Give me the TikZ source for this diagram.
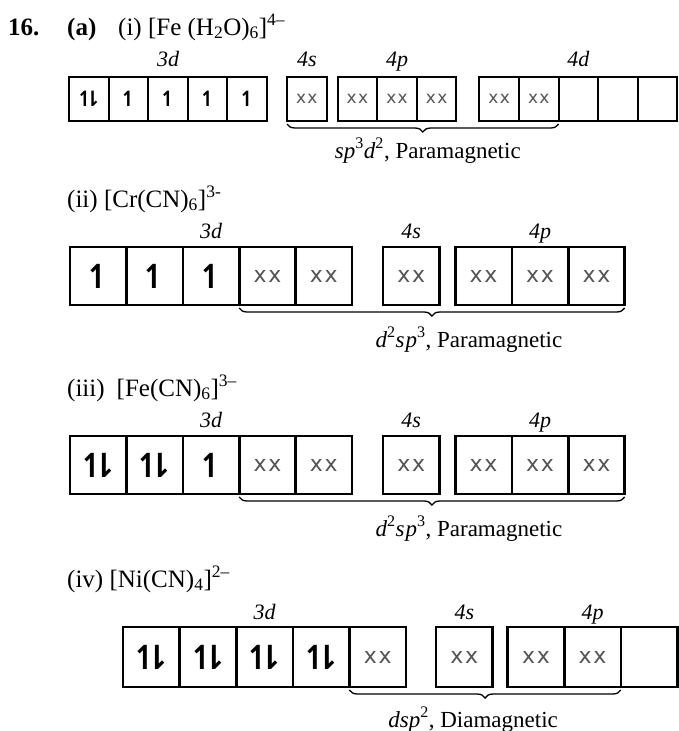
\documentclass[tikz,border=0pt]{standalone}
\usepackage{fontspec}
\setmainfont{Liberation Serif}
\newfontfamily\xxfont{DejaVu Sans}
\newfontfamily\spinfont{DejaVu Sans}
\usepackage{tikz}
\usetikzlibrary{positioning}
\usetikzlibrary{decorations.pathreplacing}

\definecolor{xxgray}{gray}{0.33}
\newcommand{\spinup}{{\spinfont\bfseries ↿}}
\newcommand{\spinpair}{{\spinfont\bfseries ↿\kern-0.48em⇂}}
\newcommand{\bondpair}{{\fontsize{\xxsz}{\xxsz}\xxfont\color{xxgray}x\kern0.08em x}}

\tikzset{
  orbA/.style={draw, line width=2pt, inner sep=0pt, outer sep=0pt, anchor=north west,
    minimum width=39.6pt, minimum height=44pt,
    font=\fontsize{21}{21}\selectfont\def\xxsz{17pt}},
  orbB/.style={orbA, line width=2.6pt, minimum width=56.4pt, minimum height=58pt,
    font=\fontsize{33}{33}\selectfont\def\xxsz{22pt}},
  orbD/.style={orbB, minimum width=56.6pt, minimum height=60pt},
  header/.style={font=\fontsize{25}{30}\selectfont, inner sep=0pt, anchor=base west},
  headbold/.style={header, font=\fontsize{25}{30}\selectfont\bfseries},
  sublabel/.style={font=\fontsize{22}{22}\selectfont\itshape, inner sep=0pt},
  hybrid/.style={decorate, decoration={brace, mirror, amplitude=8pt}, line width=1.3pt},
  hybtext/.style={font=\fontsize{23}{23}\selectfont, inner sep=0pt, anchor=base}
}

\begin{document}
\begin{tikzpicture}[x=1pt, y=-1pt]
\useasboundingbox (0,0) rectangle (678,731);

% (i) [Fe(H2O)6]4-
\node[headbold] (num) at (8,35) {16.};
\node[headbold] (part) at (67,35) {(a)};
\node[header] (hA) at (118,35) {(i) [Fe (H\textsubscript{2}O)\textsubscript{6}]\textsuperscript{4--}};

\node[orbA] (A1) at (69,77) {\spinpair};
\node[orbA, right=0pt of A1] (A2) {\spinup};
\node[orbA, right=0pt of A2] (A3) {\spinup};
\node[orbA, right=0pt of A3] (A4) {\spinup};
\node[orbA, right=0pt of A4] (A5) {\spinup};
\node[orbA, right=20pt of A5] (AS) {\bondpair};
\node[orbA, right=11pt of AS] (AP1) {\bondpair};
\node[orbA, right=0pt of AP1] (AP2) {\bondpair};
\node[orbA, right=0pt of AP2] (AP3) {\bondpair};
\node[orbA, right=23pt of AP3] (AD1) {\bondpair};
\node[orbA, right=0pt of AD1] (AD2) {\bondpair};
\node[orbA, right=0pt of AD2] (AD3) {};
\node[orbA, right=0pt of AD3] (AD4) {};
\node[orbA, right=0pt of AD4] (AD5) {};

\node[sublabel, above=11pt of A3, anchor=base] (lA3d) {3d};
\node[sublabel, above=11pt of AS, anchor=base] (lA4s) {4s};
\node[sublabel, above=11pt of AP2, anchor=base] (lA4p) {4p};
\node[sublabel, above=11pt of AD3, anchor=base] (lA4d) {4d};

\draw[hybrid] ([yshift=-3pt]AS.south west) -- ([yshift=-3pt]AD2.south east)
  node[hybtext, midway, yshift=-34pt, xshift=5pt] (hybA) {\textit{sp}\textsuperscript{3}\textit{d}\textsuperscript{2}, Paramagnetic};

% (ii) [Cr(CN)6]3-
\node[header] (hB) at (67,207) {(ii) [Cr(CN)\textsubscript{6}]\textsuperscript{3-}};

\node[orbB] (B1) at (70,247) {\spinup};
\node[orbB, right=0pt of B1] (B2) {\spinup};
\node[orbB, right=0pt of B2] (B3) {\spinup};
\node[orbB, right=0pt of B3] (B4) {\bondpair};
\node[orbB, right=0pt of B4] (B5) {\bondpair};
\node[orbB, right=31pt of B5] (BS) {\bondpair};
\node[orbB, right=16pt of BS] (BP1) {\bondpair};
\node[orbB, right=0pt of BP1] (BP2) {\bondpair};
\node[orbB, right=0pt of BP2] (BP3) {\bondpair};

\node[sublabel, above=9pt of B3, anchor=base] (lB3d) {3d};
\node[sublabel, above=9pt of BS, anchor=base] (lB4s) {4s};
\node[sublabel, above=9pt of BP2, anchor=base] (lB4p) {4p};

\draw[hybrid] ([yshift=-3pt]B4.south west) -- ([yshift=-3pt]BP3.south east)
  node[hybtext, midway, yshift=-39pt, xshift=37pt] (hybB) {\textit{d}\textsuperscript{2}\textit{s\kern1pt p}\textsuperscript{3}, Paramagnetic};

% (iii) [Fe(CN)6]3-
\node[header] (hC) at (67,396) {(iii)\hspace{12pt}[Fe(CN)\textsubscript{6}]\textsuperscript{3--}};

\node[orbB] (C1) at (70,436) {\spinpair};
\node[orbB, right=0pt of C1] (C2) {\spinpair};
\node[orbB, right=0pt of C2] (C3) {\spinup};
\node[orbB, right=0pt of C3] (C4) {\bondpair};
\node[orbB, right=0pt of C4] (C5) {\bondpair};
\node[orbB, right=31pt of C5] (CS) {\bondpair};
\node[orbB, right=16pt of CS] (CP1) {\bondpair};
\node[orbB, right=0pt of CP1] (CP2) {\bondpair};
\node[orbB, right=0pt of CP2] (CP3) {\bondpair};

\node[sublabel, above=9pt of C3, anchor=base] (lC3d) {3d};
\node[sublabel, above=9pt of CS, anchor=base] (lC4s) {4s};
\node[sublabel, above=9pt of CP2, anchor=base] (lC4p) {4p};

\draw[hybrid] ([yshift=-3pt]C4.south west) -- ([yshift=-3pt]CP3.south east)
  node[hybtext, midway, yshift=-39pt, xshift=37pt] (hybC) {\textit{d}\textsuperscript{2}\textit{s\kern1pt p}\textsuperscript{3}, Paramagnetic};

% (iv) [Ni(CN)4]2-
\node[header] (hD) at (67,587) {(iv) [Ni(CN)\textsubscript{4}]\textsuperscript{2--}};

\node[orbD] (D1) at (123,627) {\spinpair};
\node[orbD, right=0pt of D1] (D2) {\spinpair};
\node[orbD, right=0pt of D2] (D3) {\spinpair};
\node[orbD, right=0pt of D3] (D4) {\spinpair};
\node[orbD, right=0pt of D4] (D5) {\bondpair};
\node[orbD, right=30pt of D5] (DS) {\bondpair};
\node[orbD, right=15pt of DS] (DP1) {\bondpair};
\node[orbD, right=0pt of DP1] (DP2) {\bondpair};
\node[orbD, right=0pt of DP2] (DP3) {};

\node[sublabel, above=8pt of D3, anchor=base] (lD3d) {3d};
\node[sublabel, above=8pt of DS, anchor=base] (lD4s) {4s};
\node[sublabel, above=8pt of DP2, anchor=base] (lD4p) {4p};

\draw[hybrid] ([yshift=-3pt]D5.south west) -- ([yshift=-3pt]DP2.south east)
  node[hybtext, midway, yshift=-37pt, xshift=-12pt] (hybD) {\textit{dsp}\textsuperscript{2}, Diamagnetic};
\end{tikzpicture}
\end{document}
